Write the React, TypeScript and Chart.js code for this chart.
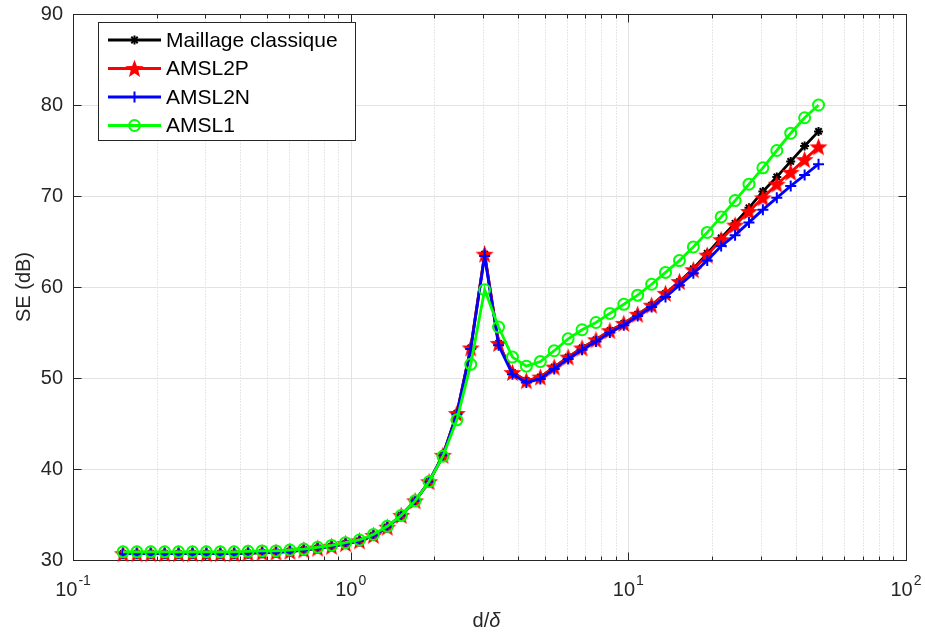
import React, { useEffect, useRef } from 'react';
import { Chart, registerables } from 'chart.js';

Chart.register(...registerables);

const FONT = '"Liberation Sans", Arial, Helvetica, sans-serif';

// d/delta sample positions (log-spaced)
const xValues = [
  0.15136, 0.16985, 0.19059, 0.21387, 0.23999, 0.2693, 0.30219, 0.3391, 0.38052, 0.42699,
  0.47973, 0.53827, 0.60406, 0.6778, 0.76067, 0.85355, 0.95851, 1.0757, 1.207, 1.3546,
  1.5205, 1.7066, 1.9152, 2.1492, 2.4121, 2.7067, 3.0376, 3.4091, 3.8257, 4.2934,
  4.8195, 5.4087, 6.0698, 6.8121, 7.6454, 8.5801, 9.6294, 10.806, 12.128, 13.611,
  15.276, 17.144, 19.24, 21.593, 24.233, 27.196, 30.521, 34.253, 38.441, 43.142, 48.417,
];

const maillageClassique = [
  30.7, 30.7, 30.7, 30.7, 30.7, 30.7, 30.7, 30.7, 30.7, 30.75,
  30.8, 30.85, 30.95, 31.1, 31.3, 31.5, 31.8, 32.1, 32.7, 33.6,
  34.9, 36.5, 38.6, 41.5, 46.1, 53.3, 63.6, 53.8, 50.6, 49.7,
  50.1, 51.2, 52.3, 53.3, 54.2, 55.2, 56.0, 57.0, 58.0, 59.3,
  60.6, 62.0, 63.7, 65.4, 67.0, 68.7, 70.5, 72.1, 73.8, 75.5, 77.1,
];

const amsl2p = [
  30.7, 30.7, 30.7, 30.7, 30.7, 30.7, 30.7, 30.7, 30.7, 30.75,
  30.8, 30.85, 30.95, 31.1, 31.3, 31.5, 31.8, 32.1, 32.7, 33.6,
  34.9, 36.5, 38.6, 41.5, 46.1, 53.3, 63.6, 53.8, 50.6, 49.7,
  50.1, 51.2, 52.3, 53.3, 54.2, 55.2, 56.0, 57.0, 58.0, 59.3,
  60.6, 61.9, 63.5, 65.2, 66.8, 68.3, 69.8, 71.3, 72.6, 74.0, 75.4,
];

const amsl2n = [
  30.7, 30.7, 30.7, 30.7, 30.7, 30.7, 30.7, 30.7, 30.7, 30.75,
  30.8, 30.85, 30.95, 31.1, 31.3, 31.5, 31.8, 32.1, 32.7, 33.6,
  34.9, 36.5, 38.6, 41.5, 46.0, 53.2, 63.4, 53.6, 50.4, 49.5,
  49.9, 51.0, 52.1, 53.1, 54.0, 55.0, 55.8, 56.8, 57.8, 58.9,
  60.2, 61.5, 62.9, 64.5, 65.7, 67.1, 68.5, 69.8, 71.1, 72.3, 73.5,
];

const amsl1 = [
  30.9, 30.9, 30.9, 30.9, 30.9, 30.9, 30.9, 30.9, 30.9, 30.95,
  31.0, 31.0, 31.1, 31.2, 31.4, 31.6, 31.9, 32.2, 32.8, 33.7,
  34.9, 36.5, 38.6, 41.4, 45.4, 51.5, 59.7, 55.6, 52.3, 51.3,
  51.8, 53.0, 54.3, 55.3, 56.1, 57.1, 58.1, 59.1, 60.3, 61.6,
  62.9, 64.4, 66.0, 67.7, 69.5, 71.3, 73.1, 75.0, 76.9, 78.6, 80.0,
];

const seriesLabels = ['Maillage classique', 'AMSL2P', 'AMSL2N', 'AMSL1'];
const seriesColors = ['#000000', '#ff0000', '#0000ff', '#00ff00'];
const yTicks = [30, 40, 50, 60, 70, 80, 90];
const xDecades = [0.1, 1, 10, 100];
const xDecadeExponents = ['-1', '0', '1', '2'];
const yTitle = 'SE (dB)';

function makePentagram(color: string, R: number): HTMLCanvasElement {
  const size = Math.ceil(R * 2 + 2);
  const c = document.createElement('canvas');
  c.width = size;
  c.height = size;
  const ctx = c.getContext('2d')!;
  const cx = size / 2;
  const cy = size / 2 + 0.8;
  const r = R * 0.42;
  ctx.beginPath();
  for (let i = 0; i < 10; i++) {
    const ang = -Math.PI / 2 + (i * Math.PI) / 5;
    const rr = i % 2 === 0 ? R : r;
    ctx.lineTo(cx + rr * Math.cos(ang), cy + rr * Math.sin(ang));
  }
  ctx.closePath();
  ctx.fillStyle = color;
  ctx.fill();
  return c;
}

function drawLegendMarker(ctx: CanvasRenderingContext2D, idx: number, x: number, y: number, star: HTMLCanvasElement) {
  const color = seriesColors[idx];
  ctx.save();
  ctx.strokeStyle = color;
  ctx.lineWidth = 2;
  ctx.setLineDash([]);
  if (idx === 0) {
    const r = 4.5;
    for (let k = 0; k < 4; k++) {
      const a = (k * Math.PI) / 4;
      ctx.beginPath();
      ctx.moveTo(x - r * Math.cos(a), y - r * Math.sin(a));
      ctx.lineTo(x + r * Math.cos(a), y + r * Math.sin(a));
      ctx.stroke();
    }
  } else if (idx === 1) {
    ctx.drawImage(star, x - star.width / 2, y - star.height / 2);
  } else if (idx === 2) {
    const r = 5.5;
    ctx.beginPath();
    ctx.moveTo(x - r, y);
    ctx.lineTo(x + r, y);
    ctx.moveTo(x, y - r);
    ctx.lineTo(x, y + r);
    ctx.stroke();
  } else {
    ctx.beginPath();
    ctx.arc(x, y, 5.5, 0, Math.PI * 2);
    ctx.stroke();
  }
  ctx.restore();
}

export default function App() {
  const canvasRef = useRef<HTMLCanvasElement | null>(null);

  useEffect(() => {
    const canvas = canvasRef.current;
    if (!canvas) return;
    const star = makePentagram('#ff0000', 9.5);
    const seriesValues = [maillageClassique, amsl2p, amsl2n, amsl1];
    const pointStyles: any[] = ['star', star, 'cross', 'circle'];
    const pointRadii = [4.5, 9, 5.5, 5.5];
    const orders = [4, 3, 2, 1];

    const framePlugin = {
      id: 'matlabFrame',
      beforeDatasetsDraw(chart: any) {
        const { ctx, chartArea: a, scales } = chart;
        const xs = scales.x;
        const ys = scales.y;
        const L = Math.round(a.left) + 0.5;
        const R = Math.round(a.right) + 0.5;
        const T = Math.round(a.top) + 0.5;
        const B = Math.round(a.bottom) + 0.5;
        ctx.save();
        // minor grid (dotted)
        ctx.lineWidth = 1;
        ctx.strokeStyle = '#cfcfcf';
        ctx.setLineDash([1, 2]);
        for (const d of xDecades.slice(0, 3)) {
          for (let m = 2; m <= 9; m++) {
            const px = Math.round(xs.getPixelForValue(d * m)) + 0.5;
            ctx.beginPath();
            ctx.moveTo(px, T);
            ctx.lineTo(px, B);
            ctx.stroke();
          }
        }
        ctx.setLineDash([]);
        // major grid
        ctx.strokeStyle = '#e2e2e2';
        for (const d of xDecades.slice(1, 3)) {
          const px = Math.round(xs.getPixelForValue(d)) + 0.5;
          ctx.beginPath();
          ctx.moveTo(px, T);
          ctx.lineTo(px, B);
          ctx.stroke();
        }
        for (const v of yTicks.slice(1, -1)) {
          const py = Math.round(ys.getPixelForValue(v)) + 0.5;
          ctx.beginPath();
          ctx.moveTo(L, py);
          ctx.lineTo(R, py);
          ctx.stroke();
        }
        // frame
        ctx.strokeStyle = '#262626';
        ctx.lineWidth = 1;
        ctx.strokeRect(L, T, R - L, B - T);
        // ticks
        ctx.beginPath();
        for (const d of xDecades.slice(0, 3)) {
          for (let m = 1; m <= 9; m++) {
            const px = Math.round(xs.getPixelForValue(d * m)) + 0.5;
            const len = m === 1 ? 8 : 4;
            ctx.moveTo(px, B);
            ctx.lineTo(px, B - len);
            ctx.moveTo(px, T);
            ctx.lineTo(px, T + len);
          }
        }
        for (const v of yTicks) {
          const py = Math.round(ys.getPixelForValue(v)) + 0.5;
          ctx.moveTo(L, py);
          ctx.lineTo(L + 8, py);
          ctx.moveTo(R, py);
          ctx.lineTo(R - 8, py);
        }
        ctx.stroke();
        ctx.restore();
      },
      afterDatasetsDraw(chart: any) {
        const { ctx } = chart;
        ctx.save();
        // legend box
        const bx = 98.5, by = 22.5, bw = 257, bh = 118;
        ctx.fillStyle = '#ffffff';
        ctx.fillRect(bx, by, bw, bh);
        ctx.strokeStyle = '#262626';
        ctx.lineWidth = 1;
        ctx.strokeRect(bx, by, bw, bh);
        const rows = [40, 68.5, 97, 125.5];
        ctx.font = `21px ${FONT}`;
        ctx.textBaseline = 'middle';
        ctx.textAlign = 'left';
        for (let i = 0; i < seriesLabels.length; i++) {
          const y = rows[i];
          ctx.strokeStyle = seriesColors[i];
          ctx.lineWidth = 2.8;
          ctx.beginPath();
          ctx.moveTo(108, y);
          ctx.lineTo(161, y);
          ctx.stroke();
          drawLegendMarker(ctx, i, 134.5, y, star);
          ctx.fillStyle = '#000000';
          ctx.fillText(seriesLabels[i], 166, y + 1);
        }
        ctx.restore();
      },
      afterDraw(chart: any) {
        const { ctx, chartArea: a, scales } = chart;
        const xs = scales.x;
        ctx.save();
        ctx.fillStyle = '#262626';
        ctx.textAlign = 'left';
        ctx.textBaseline = 'alphabetic';
        for (let i = 0; i < xDecades.length; i++) {
          const px = xs.getPixelForValue(xDecades[i]);
          ctx.font = `20px ${FONT}`;
          const w1 = ctx.measureText('10').width;
          ctx.font = `14px ${FONT}`;
          const w2 = ctx.measureText(xDecadeExponents[i]).width;
          const start = px - (w1 + w2 + 1) / 2;
          ctx.font = `20px ${FONT}`;
          ctx.fillText('10', start, 596);
          ctx.font = `14px ${FONT}`;
          ctx.fillText(xDecadeExponents[i], start + w1 + 1, 585);
        }
        // x title: d/δ (δ italic)
        ctx.font = `20px ${FONT}`;
        const wa = ctx.measureText('d/').width;
        ctx.font = `italic 20px ${FONT}`;
        const wb = ctx.measureText('δ').width;
        const cx = (a.left + a.right) / 2 - 3;
        const sx = cx - (wa + wb) / 2;
        ctx.font = `20px ${FONT}`;
        ctx.fillText('d/', sx, 627);
        ctx.font = `italic 20px ${FONT}`;
        ctx.fillText('δ', sx + wa, 627);
        ctx.restore();
      },
    };

    const chart = new Chart(canvas, {
      type: 'line',
      data: {
        datasets: seriesLabels.map((label, i) => ({
          label,
          data: xValues.map((x, k) => ({ x, y: seriesValues[i][k] })),
          borderColor: seriesColors[i],
          backgroundColor: i === 3 ? 'rgba(0,0,0,0)' : seriesColors[i],
          pointBorderColor: seriesColors[i],
          pointBackgroundColor: i === 3 ? 'rgba(0,0,0,0)' : seriesColors[i],
          borderWidth: 2.8,
          pointBorderWidth: 2,
          pointStyle: pointStyles[i],
          pointRadius: pointRadii[i],
          pointHoverRadius: pointRadii[i],
          tension: 0,
          fill: false,
          clip: false as any,
          order: orders[i],
        })),
      },
      options: {
        responsive: false,
        animation: false,
        devicePixelRatio: 1,
        layout: { autoPadding: false, padding: { top: 14, right: 19, left: 0, bottom: 0 } },
        plugins: { legend: { display: false }, tooltip: { enabled: false } },
        scales: {
          x: {
            type: 'logarithmic',
            min: 0.1,
            max: 100,
            grid: { display: false, drawTicks: false },
            border: { display: false },
            ticks: { display: false },
            afterFit: (s: any) => {
              s.height = 75;
              s.paddingLeft = 0;
              s.paddingRight = 0;
            },
          },
          y: {
            type: 'linear',
            min: 30,
            max: 90,
            afterBuildTicks: (s: any) => {
              s.ticks = yTicks.map((v) => ({ value: v }));
            },
            ticks: { padding: 10, color: '#262626', font: { family: FONT, size: 20 } },
            grid: { display: false, drawTicks: false },
            border: { display: false },
            title: {
              display: true,
              text: yTitle,
              color: '#262626',
              font: { family: FONT, size: 20 },
              padding: { top: 12, bottom: 0 },
            },
            afterFit: (s: any) => {
              s.width = 73;
              s.paddingTop = 0;
              s.paddingBottom = 0;
            },
          },
        } as any,
      },
      plugins: [framePlugin as any],
    });

    return () => chart.destroy();
  }, []);

  return (
    <div style={{ position: 'absolute', left: 0, top: 0, width: 925, height: 635, background: '#ffffff' }}>
      <canvas ref={canvasRef} width={925} height={635} style={{ display: 'block' }} />
    </div>
  );
}
